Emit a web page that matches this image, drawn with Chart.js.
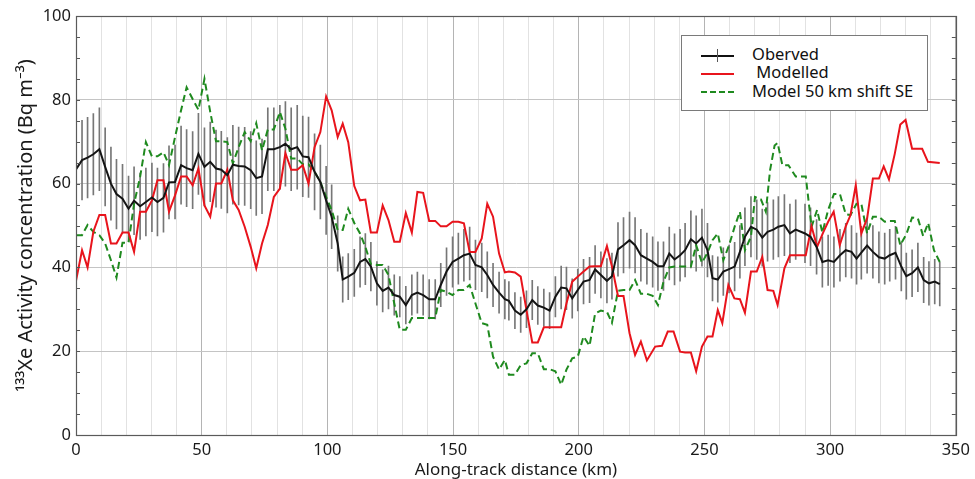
<!DOCTYPE html>
<html>
<head>
<meta charset="utf-8">
<script src="https://cdn.jsdelivr.net/npm/chart.js@4.4.0/dist/chart.umd.min.js"></script>
<style>
html,body{margin:0;padding:0;background:#fff;}
#wrap{position:relative;width:975px;height:479px;overflow:hidden;background:#fff;}
canvas{display:block;}
#legend{position:absolute;left:681px;top:35px;width:245px;height:74px;border:1px solid #7a7a7a;background:#fff;font-family:'Noto Sans',sans-serif;font-size:16.5px;color:#111;}
.sample{position:absolute;left:19px;width:33px;height:0;}
.txt{position:absolute;left:70px;line-height:18px;white-space:pre;}
</style>
</head>
<body>
<div id="wrap">
<canvas id="c" width="975" height="479"></canvas>
<div id="legend">
  <div class="sample" style="top:19px;border-top:2px solid #111;"></div>
  <div style="position:absolute;left:35px;top:13px;width:1px;height:13px;background:#555;"></div>
  <div class="txt" style="top:9px;">Oberved</div>
  <div class="sample" style="top:37px;border-top:2px solid #e8141c;"></div>
  <div class="txt" style="top:27px;"> Modelled</div>
  <div class="sample" style="top:55px;border-top:2px dashed #1f8a1f;"></div>
  <div class="txt" style="top:46px;">Model 50 km shift SE</div>
</div>
</div>
<script>
// Observed (black) – distance (km), concentration, error half-width
const obsDistance = [
  0,2.4,4.6,6.9,9.3,11.6,13.9,16.1,18.5,20.9,
  23.1,25.5,27.8,30.2,32.4,34.8,37.0,39.4,41.8,44.0,
  46.4,48.7,51.1,53.4,55.7,57.8,60.2,62.4,64.7,67.1,
  69.5,71.7,74.0,76.3,78.7,81.1,83.3,85.6,88.0,90.2,
  92.5,94.9,97.2,99.5,101.7,104.1,106.1,108.3,110.7,113.0,
  115.1,117.3,119.7,122.0,124.3,126.6,128.8,131.2,133.6,135.8,
  138.1,140.5,142.9,145.1,147.4,149.8,152.1,154.3,156.6,158.9,
  161.4,163.6,165.9,168.3,170.6,172.2,174.6,176.9,179.2,181.5,
  183.7,186.1,188.4,190.7,193.0,195.1,197.4,199.6,201.9,204.3,
  206.5,208.8,211.2,213.2,215.6,217.8,220.2,222.4,224.7,227.1,
  229.4,231.5,233.7,236.0,238.1,240.3,242.3,244.6,246.7,249.0,
  251.2,253.2,255.3,257.5,259.8,262.0,264.1,266.1,268.5,270.8,
  273.0,275.1,277.4,279.4,281.8,284.0,286.3,290.0,292.2,294.6,
  296.9,299.2,301.5,303.9,306.2,308.5,310.5,312.4,314.7,317.0,
  319.4,321.7,323.7,326.0,328.3,330.3,332.6,334.9,337.2,339.3,
  341.6,343.6
];
const obsValue = [
  63.4,65.6,66.2,67.0,68.2,64.0,60.0,57.5,56.4,54.0,
  55.9,54.6,55.6,56.7,55.6,56.6,60.3,60.4,64.4,63.7,
  63.2,67.1,64.0,65.2,63.6,63.3,62.0,64.5,64.2,64.1,
  63.2,61.3,61.7,68.2,68.2,68.7,69.5,68.2,68.7,66.5,
  66.3,62.8,60.4,56.0,52.1,45.7,37.1,37.8,38.7,41.3,
  42.0,40.2,36.2,34.4,35.2,33.4,33.0,31.0,33.4,34.0,
  33.4,32.4,32.4,35.8,39.0,41.3,42.1,42.9,43.3,40.6,
  40.0,38.2,35.8,34.0,32.4,32.0,29.7,28.7,30.0,32.2,
  30.9,30.4,29.7,33.0,35.2,35.0,32.6,34.6,36.6,37.0,
  39.5,38.2,36.8,37.9,44.3,45.3,46.5,45.3,42.9,42.1,
  41.3,40.3,40.3,43.3,41.9,42.9,44.1,46.7,45.7,47.1,
  44.1,37.4,37.1,39.0,39.6,40.2,43.7,47.3,49.7,49.0,
  47.1,48.5,49.0,49.7,50.1,48.1,49.0,48.1,47.3,44.9,
  41.3,41.7,41.3,42.9,44.1,43.7,42.1,43.5,45.2,43.7,
  42.4,42.1,42.9,43.5,40.2,37.9,38.6,40.0,37.0,36.2,
  36.6,36.0
];
const obsError = [
  9.2,9.5,9.6,9.7,9.9,9.3,8.7,8.3,8.2,7.8,
  8.1,7.9,8.1,8.2,8.1,8.2,8.7,8.8,9.3,9.2,
  9.2,9.7,9.3,9.5,9.2,9.2,9.0,9.4,9.3,9.3,
  9.2,8.9,8.9,9.9,9.9,10.0,10.1,9.9,10.0,9.6,
  9.6,9.1,8.8,8.1,7.6,6.6,5.4,5.5,5.6,6.0,
  6.1,5.8,5.2,5.0,5.1,4.8,4.8,4.5,4.8,4.9,
  4.8,4.7,4.7,5.2,5.7,6.0,6.1,6.2,6.3,5.9,
  5.8,5.5,5.2,4.9,4.7,4.6,4.3,4.2,4.4,4.7,
  4.5,4.4,4.3,4.8,5.1,5.1,4.7,5.0,5.3,5.4,
  5.7,5.5,5.3,5.5,6.4,6.6,6.7,6.6,6.2,6.1,
  6.0,5.8,5.8,6.3,6.1,6.2,6.4,6.8,6.6,6.8,
  6.4,5.4,5.4,5.7,5.7,5.8,6.3,6.9,7.2,7.1,
  6.8,7.0,7.1,7.2,7.3,7.0,7.1,7.0,6.9,6.5,
  6.0,6.0,6.0,6.2,6.4,6.3,6.1,6.3,6.6,6.3,
  6.1,6.1,6.2,6.3,5.8,5.5,5.6,5.8,5.4,5.2,
  5.3,5.2
];

// Modelled (red)
const modDistance = [
  0,2.4,4.6,6.9,9.3,11.6,13.9,16.1,18.5,20.9,
  23.1,25.5,27.8,30.2,32.4,34.8,37.0,39.4,41.8,44.0,
  46.4,48.7,51.1,53.4,55.7,57.8,60.2,62.4,64.7,67.1,
  69.5,71.7,74.0,76.3,78.7,81.1,83.3,85.6,88.0,90.2,
  92.5,94.9,97.2,99.5,101.7,104.1,106.1,108.3,110.7,113.0,
  115.1,117.3,119.7,122.0,124.3,126.6,128.8,131.2,133.6,135.8,
  138.1,140.5,142.9,145.1,147.4,149.8,152.1,154.3,156.6,158.9,
  161.4,163.6,165.9,168.3,170.6,172.2,174.6,176.9,179.2,181.5,
  183.7,186.1,188.4,190.7,193.0,195.1,197.4,199.6,201.9,204.3,
  206.5,208.8,211.2,213.2,215.6,217.8,220.2,222.4,224.7,227.1,
  230.4,233.1,235.4,237.7,240.3,242.3,244.6,246.7,249.0,251.2,
  253.2,255.3,257.1,259.5,261.9,264.1,266.1,268.5,270.8,273.0,
  275.1,277.4,279.1,281.8,284.0,287.3,290.3,292.6,294.8,297.2,
  299.2,301.4,303.8,306.2,308.1,310.2,312.4,314.7,317.0,319.4,
  321.3,323.4,325.7,327.9,330.0,332.6,336.6,338.9,343.6
];
const modValue = [
  36.8,44.1,40.0,48.5,52.5,52.5,45.7,45.7,48.3,48.3,
  43.7,53.3,53.3,56.0,60.8,60.8,53.3,57.2,61.7,61.7,
  59.6,63.6,54.8,52.1,60.0,60.0,63.3,56.0,53.7,49.7,
  44.9,39.8,45.7,50.1,56.8,58.8,67.3,63.3,63.3,64.4,
  60.0,68.7,72.3,80.8,77.5,71.1,74.3,69.9,59.4,56.0,
  56.2,48.3,48.3,54.8,51.3,46.1,46.1,53.0,48.3,58.0,
  57.8,51.1,51.1,49.8,49.8,50.9,50.9,50.5,43.7,43.7,
  46.9,55.2,52.1,43.3,38.8,39.0,38.8,37.8,29.8,22.1,
  22.1,25.7,25.7,25.7,25.7,31.4,36.6,37.8,39.0,40.2,
  40.3,40.3,45.1,40.2,33.2,33.2,24.3,19.1,22.3,17.8,
  21.1,21.3,24.7,24.7,19.9,19.7,19.7,15.2,21.1,23.5,
  23.5,29.8,26.7,35.8,32.6,32.4,29.2,39.0,39.0,42.5,
  34.6,34.4,31.0,39.8,42.9,42.9,42.9,49.8,44.9,48.3,
  50.9,53.3,45.3,49.8,52.5,59.6,48.1,51.7,61.2,61.2,
  64.1,61.0,67.1,74.1,75.2,68.3,68.3,65.2,64.9
];

// Model 50 km shift SE (green dashed)
const shiftDistance = [
  0,2.4,4.6,6.9,9.3,11.6,13.9,16.1,18.5,20.9,
  23.1,25.5,27.8,30.2,32.4,34.8,37.0,39.4,41.8,44.0,
  46.4,48.7,51.1,53.4,55.7,57.8,60.2,62.4,64.7,67.1,
  69.5,71.7,74.0,76.3,78.7,81.1,83.3,85.6,88.0,90.2,
  92.5,94.9,97.2,99.5,101.7,104.1,106.1,108.3,110.7,113.0,
  115.1,117.3,119.7,122.0,124.3,126.6,128.8,131.2,133.6,135.8,
  138.1,140.5,142.9,145.1,147.4,149.8,152.1,154.3,156.6,158.9,
  161.4,163.6,165.9,168.3,170.6,172.2,174.6,176.9,179.2,181.5,
  183.7,186.1,188.4,190.7,193.0,195.1,197.4,199.6,201.9,204.3,
  206.5,208.8,211.2,213.2,215.6,217.8,220.2,222.4,224.7,227.1,
  229.4,231.5,233.7,236.0,238.1,240.3,242.3,244.6,246.7,249.0,
  251.2,253.2,255.3,257.5,259.8,262.0,264.1,266.1,268.5,270.1,
  272.5,274.4,276.1,277.9,279.1,281.0,283.4,286.3,290.3,292.6,
  294.8,296.9,299.2,301.5,303.9,306.2,308.1,310.5,312.4,314.7,
  317.0,319.4,321.7,323.7,325.7,327.9,330.3,332.6,334.9,337.0,
  339.0,341.3,343.6
];
const shiftValue = [
  47.7,47.7,50.1,48.5,47.7,45.7,41.7,37.6,45.9,45.9,
  55.2,61.6,69.9,66.5,66.5,67.5,64.4,71.1,77.5,83.0,
  80.2,77.6,85.0,77.1,70.1,70.1,69.9,64.8,68.7,72.3,
  70.1,74.4,67.9,72.9,72.9,77.1,73.1,66.0,66.0,64.6,
  64.6,62.8,60.4,56.8,53.7,48.9,48.9,54.0,50.6,48.1,
  44.9,40.8,40.6,40.6,38.2,31.4,25.1,25.1,27.9,27.9,
  27.9,27.9,27.9,34.6,34.2,33.4,34.6,34.6,35.8,31.4,
  26.7,26.3,18.7,15.6,17.9,14.4,14.4,16.7,17.1,19.5,
  19.5,15.7,15.7,15.2,12.0,15.6,18.3,18.7,23.5,21.3,
  29.0,29.7,29.4,26.8,34.4,34.6,34.6,37.0,33.7,33.7,
  33.2,31.0,36.6,40.0,40.2,40.2,40.2,40.2,45.3,41.1,
  43.5,46.5,48.1,41.7,45.3,49.7,53.3,44.1,47.3,56.8,
  56.2,53.3,63.2,69.1,69.7,64.4,64.4,61.7,61.7,49.7,
  53.7,48.3,53.7,57.5,57.5,52.7,52.5,55.2,55.2,48.1,
  52.1,52.1,50.9,51.1,51.1,45.3,47.9,51.9,51.7,47.5,
  50.6,44.1,41.3
];

const xTickLabels = [0, 50, 100, 150, 200, 250, 300, 350];
const yTickLabels = [0, 20, 40, 60, 80, 100];

function zip(xs, ys) {
  const n = Math.min(xs.length, ys.length);
  const out = [];
  for (let i = 0; i < n; i++) out.push({x: xs[i], y: ys[i]});
  return out;
}
const obsPts = zip(obsDistance, obsValue);
const modPts = zip(modDistance, modValue);
const shiftPts = zip(shiftDistance, shiftValue);
const errPts = [];
for (let i = 0; i < Math.min(obsDistance.length, obsValue.length, obsError.length); i++) {
  errPts.push({x: obsDistance[i], y: [obsValue[i] - obsError[i], obsValue[i] + obsError[i]]});
}

Chart.defaults.font.family = "'Noto Sans', sans-serif";
Chart.defaults.color = '#1a1a1a';

const framePlugin = {
  id: 'frame',
  afterDraw(chart) {
    const {ctx, chartArea: a, scales} = chart;
    ctx.save();
    ctx.strokeStyle = '#555';
    ctx.lineWidth = 1;
    scales.y.ticks.forEach(t => {
      const py = Math.round(scales.y.getPixelForValue(t.value)) + 0.5;
      ctx.beginPath();
      ctx.moveTo(a.left, py);
      ctx.lineTo(a.left + 4, py);
      ctx.stroke();
      ctx.beginPath();
      ctx.moveTo(a.right, py);
      ctx.lineTo(a.right - 4, py);
      ctx.stroke();
    });
    ctx.strokeStyle = '#5a5a5a';
    ctx.lineWidth = 1.2;
    ctx.strokeRect(Math.round(a.left) + 0.5, Math.round(a.top) + 0.5,
                   Math.round(a.right - a.left), Math.round(a.bottom - a.top));
    ctx.restore();
  }
};

new Chart(document.getElementById('c'), {
  type: 'line',
  data: {
    datasets: [
      {type: 'line', label: 'Oberved', data: obsPts, borderColor: '#141414', borderWidth: 2,
       pointRadius: 0, tension: 0, order: 0},
      {type: 'line', label: ' Modelled', data: modPts, borderColor: '#e8141c',
       borderWidth: 2, pointRadius: 0, tension: 0, order: 1},
      {type: 'line', label: 'Model 50 km shift SE', data: shiftPts,
       borderColor: '#1f8a1f', borderDash: [7, 4], borderWidth: 2, pointRadius: 0, tension: 0, order: 2},
      {type: 'bar', label: 'error', data: errPts, backgroundColor: '#777777', borderWidth: 0,
       barThickness: 1, order: 3}
    ]
  },
  options: {
    responsive: false,
    animation: false,
    devicePixelRatio: 1,
    layout: {padding: {left: 0, right: 16, top: 16, bottom: 0}},
    plugins: {legend: {display: false}, tooltip: {enabled: false}},
    scales: {
      x: {
        type: 'linear', min: 0, max: 350, offset: false,
        afterFit(s) { s.height = 44; },
        ticks: {stepSize: 10, autoSkip: false, maxRotation: 0, padding: 5,
                font: {size: 16.5}, color: '#1a1a1a',
                callback: v => xTickLabels.includes(v) ? String(v) : ''},
        grid: {offset: false, drawTicks: false, lineWidth: 1,
               color: c => (c.tick && c.tick.value % 50 === 0) ? '#b4b4b4' : '#e2e2e2'},
        border: {display: true, color: '#5a5a5a'},
        title: {display: true, text: 'Along-track distance (km)', font: {size: 17},
                color: '#1a1a1a', padding: {top: 0, bottom: -1}}
      },
      y: {
        min: 0, max: 100,
        afterFit(s) { s.width = 76; },
        ticks: {stepSize: 5, autoSkip: false, padding: 5, font: {size: 16.5}, color: '#1a1a1a',
                callback: v => yTickLabels.includes(v) ? String(v) : ''},
        grid: {drawTicks: false, lineWidth: 1,
               color: c => (c.tick && c.tick.value % 20 === 0) ? '#c4c4c4' : 'rgba(0,0,0,0)'},
        border: {display: true, color: '#5a5a5a'},
        title: {display: true, text: '¹³³Xe Activity concentration (Bq m⁻³)', font: {size: 20},
                color: '#1a1a1a', padding: {top: 14, bottom: 0}}
      }
    }
  },
  plugins: [framePlugin]
});
</script>
</body>
</html>
